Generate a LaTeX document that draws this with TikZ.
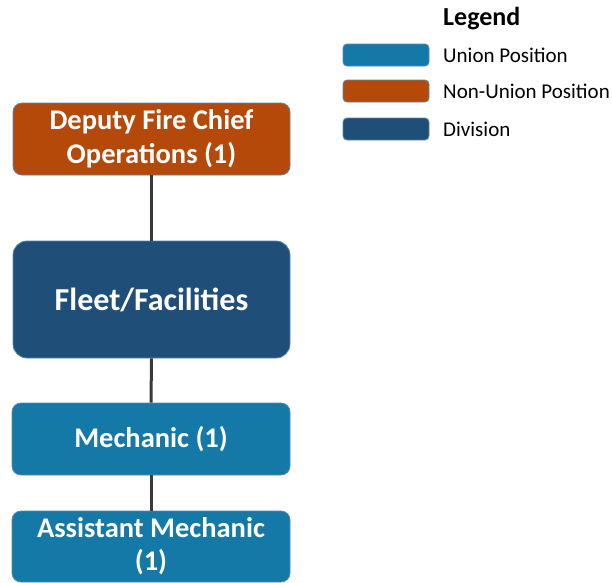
\documentclass[tikz,border=0pt]{standalone}
\usepackage{fontspec}
\setmainfont{Carlito}
\definecolor{unionc}{HTML}{1479A6}
\definecolor{nonunionc}{HTML}{B4490A}
\definecolor{divisionc}{HTML}{1F4E79}
\definecolor{edgec}{HTML}{5A86B0}
\definecolor{linkc}{HTML}{3A3A3A}
\begin{document}
\begin{tikzpicture}[x=1pt,y=-1pt,
  orgbox/.style={draw=edgec, line width=0.8pt, rounded corners=9pt, text=white,
    font=\bfseries\fontsize{28.5}{34}\selectfont, align=center, inner sep=0pt},
  swatch/.style={draw=edgec, line width=0.8pt, rounded corners=4pt},
  legtext/.style={anchor=west, font=\fontsize{21}{24}\selectfont, inner sep=0pt},
  link/.style={draw=linkc, line width=3pt}]
\useasboundingbox (0,0) rectangle (612,582);
% organisation chart boxes
\node[orgbox, fill=nonunionc, minimum width=277pt, minimum height=72pt] (chief) at (151.5,139) {Deputy Fire Chief\\Operations (1)};
\node[orgbox, fill=divisionc, minimum width=277pt, minimum height=117pt, rounded corners=14pt,
  font=\bfseries\fontsize{32}{36}\selectfont] (fleet) at (151.5,299.5) {Fleet/Facilities};
\node[orgbox, fill=unionc, minimum width=278pt, minimum height=72pt] (mech) at (151,439) {Mechanic (1)};
\node[orgbox, fill=unionc, minimum width=278pt, minimum height=71pt,
  font=\bfseries\fontsize{28.5}{33}\selectfont] (asst) at (151,546.5) {Assistant Mechanic\\(1)};
% reporting lines
\draw[link] (chief.south) -- (fleet.north);
\draw[link] (fleet.south) -- (mech.north);
\draw[link] (mech.south) -- (asst.north);
% legend
\node[anchor=west, inner sep=0pt, font=\bfseries\fontsize{26}{30}\selectfont] (legtitle) at (443,19) {Legend};
\node[swatch, fill=unionc, minimum width=86pt, minimum height=22pt, inner sep=0pt] (swu) at (386,55) {};
\node[swatch, fill=nonunionc, minimum width=86pt, minimum height=22pt, inner sep=0pt] (swn) at (386,91) {};
\node[swatch, fill=divisionc, minimum width=86pt, minimum height=22pt, inner sep=0pt] (swd) at (386,129) {};
\node[legtext] (lu) at (443,55) {Union Position};
\node[legtext] (ln) at (443,91) {Non-Union Position};
\node[legtext] (ld) at (443,129) {Division};
\end{tikzpicture}
\end{document}
